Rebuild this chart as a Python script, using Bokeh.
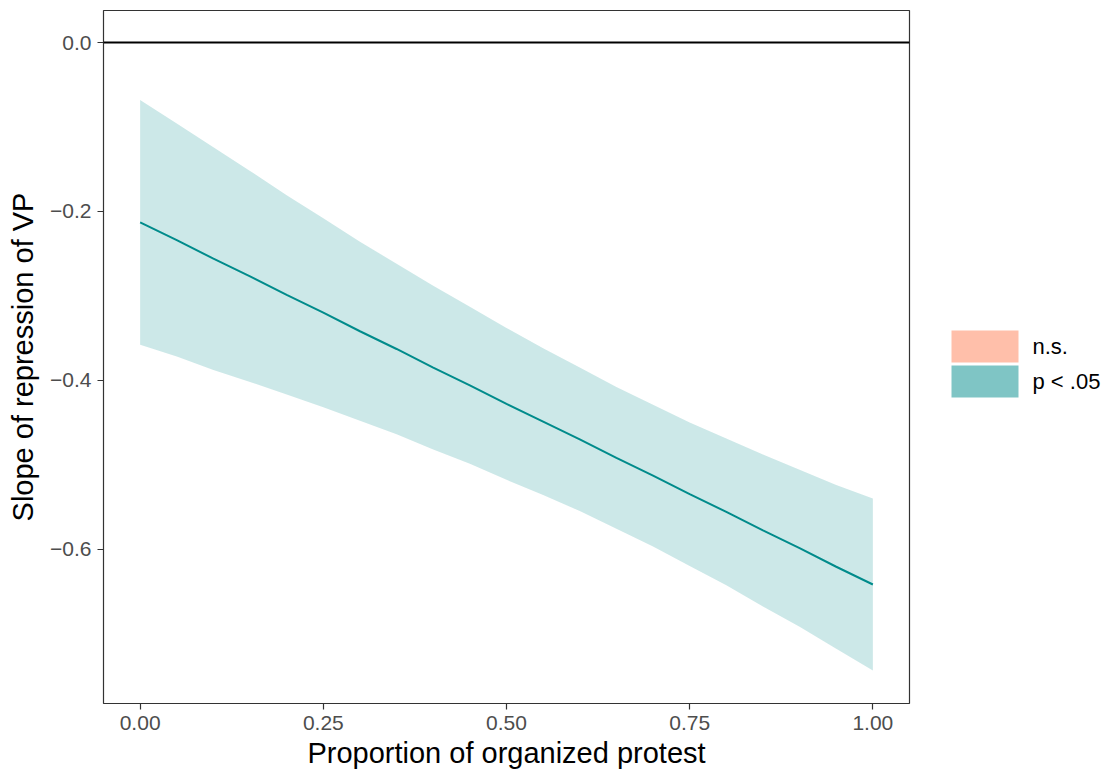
from bokeh.plotting import figure
from bokeh.layouts import row
from bokeh.models import (Range1d, FixedTicker, CustomJSTickFormatter, Span,
                          ColumnDataSource)
from bokeh.core.properties import value
from bokeh.embed import file_html
from bokeh.resources import INLINE

# Marginal effect of repression on VP across the share of organized protest
protest_share = [0.0, 0.05, 0.1, 0.15, 0.2, 0.25, 0.3, 0.35, 0.4, 0.45, 0.5,
                 0.55, 0.6, 0.65, 0.7, 0.75, 0.8, 0.85, 0.9, 0.95, 1.0]
slope_est = [-0.213, -0.234, -0.256, -0.277, -0.299, -0.320, -0.342, -0.363,
             -0.385, -0.406, -0.428, -0.449, -0.470, -0.492, -0.513, -0.535,
             -0.556, -0.578, -0.599, -0.621, -0.642]
ci_upper = [-0.068, -0.096, -0.124, -0.152, -0.181, -0.208, -0.236, -0.262,
            -0.288, -0.313, -0.338, -0.362, -0.385, -0.408, -0.429, -0.450,
            -0.469, -0.488, -0.506, -0.524, -0.540]
ci_lower = [-0.358, -0.372, -0.388, -0.402, -0.417, -0.432, -0.448, -0.464,
            -0.482, -0.499, -0.518, -0.536, -0.555, -0.576, -0.597, -0.620,
            -0.643, -0.668, -0.692, -0.718, -0.744]

x_ticks = [0.0, 0.25, 0.5, 0.75, 1.0]
y_ticks = [-0.6, -0.4, -0.2, 0.0]
sig_labels = ["n.s.", "p < .05"]
sig_colors = ["#FF7F55", "#008B8B"]

FONT = "Liberation Sans"
MAIN_W, LEG_W, H = 930, 185, 774
BORDER_TOP, BORDER_BOTTOM = 10, 71

src = ColumnDataSource(dict(x=protest_share, est=slope_est, lo=ci_lower, hi=ci_upper))

p = figure(width=MAIN_W, height=H, output_backend="svg", toolbar_location=None,
           x_range=Range1d(-0.05, 1.05), y_range=Range1d(-0.783, 0.038),
           min_border_left=103, min_border_right=21, min_border_top=BORDER_TOP,
           min_border_bottom=BORDER_BOTTOM)

p.background_fill_color = "white"
p.border_fill_color = "white"
p.outline_line_color = "#333333"
p.outline_line_width = 1.2
p.grid.visible = False

# zero reference line
p.add_layout(Span(location=0, dimension="width", line_color="black", line_width=2))

# confidence band and estimate
p.varea(x="x", y1="lo", y2="hi", source=src, fill_color=sig_colors[1], fill_alpha=0.2)
p.line(x="x", y="est", source=src, line_color=sig_colors[1], line_width=2)

# axes
for ax in (p.xaxis[0], p.yaxis[0]):
    ax.axis_line_color = None
    ax.major_tick_in = 0
    ax.major_tick_out = 6
    ax.major_tick_line_color = "#333333"
    ax.major_tick_line_width = 1.2
    ax.minor_tick_line_color = None
    ax.major_label_text_font = FONT
    ax.major_label_text_font_size = "21px"
    ax.major_label_text_color = "#4D4D4D"
    ax.axis_label_text_font = FONT
    ax.axis_label_text_font_size = "29px"
    ax.axis_label_text_font_style = "normal"
    ax.axis_label_text_color = "black"

p.xaxis.ticker = FixedTicker(ticks=x_ticks)
p.yaxis.ticker = FixedTicker(ticks=y_ticks)
p.xaxis.formatter = CustomJSTickFormatter(code="return tick.toFixed(2);")
p.yaxis.formatter = CustomJSTickFormatter(
    code="return tick.toFixed(1).replace('-', '\\u2212');")
p.xaxis.major_label_standoff = 6
p.yaxis.major_label_standoff = 6
p.xaxis.axis_label = "Proportion of organized protest"
p.yaxis.axis_label = "Slope of repression of VP"
p.xaxis.axis_label_standoff = 4
p.yaxis.axis_label_standoff = 8

# significance legend drawn in a pixel-scaled side panel
# (its frame lines up with the main frame, so y counts from the page bottom)
key_left, key_w, key_h, key_gap, key_top = 21, 67, 32, 3, H - 330
tops = [key_top - i * (key_h + key_gap) for i in range(len(sig_labels))]
leg_src = ColumnDataSource(dict(
    left=[key_left] * len(sig_labels),
    right=[key_left + key_w] * len(sig_labels),
    top=tops,
    bottom=[t - key_h for t in tops],
    mid=[t - key_h / 2 for t in tops],
    tx=[key_left + key_w + 14] * len(sig_labels),
    label=sig_labels,
    color=sig_colors,
))

leg = figure(width=LEG_W, height=H, output_backend="svg", toolbar_location=None,
             x_range=Range1d(0, LEG_W), y_range=Range1d(BORDER_BOTTOM, H - BORDER_TOP),
             min_border=0, min_border_top=BORDER_TOP, min_border_bottom=BORDER_BOTTOM,
             x_axis_location=None, y_axis_location=None)
leg.outline_line_color = None
leg.grid.visible = False
leg.background_fill_color = "white"
leg.border_fill_color = "white"
leg.quad(left="left", right="right", top="top", bottom="bottom", source=leg_src,
         fill_color="color", fill_alpha=0.5, line_color=None)
leg.text(x="tx", y="mid", text="label", source=leg_src, text_baseline="middle",
         text_align="left", text_font=value(FONT), text_font_size="22px",
         text_color="black")

layout = row(p, leg, spacing=0)

open("out.html", "w").write(file_html(layout, INLINE))
